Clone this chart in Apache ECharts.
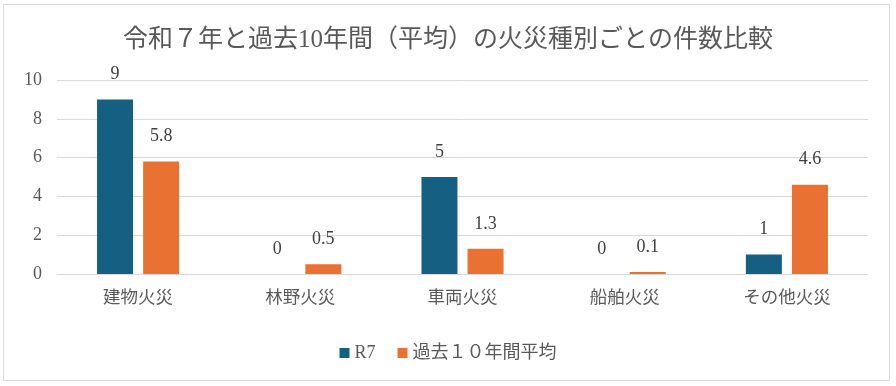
<!DOCTYPE html>
<html><head><meta charset="utf-8">
<script src="https://cdn.jsdelivr.net/npm/echarts@6/dist/echarts.min.js"></script>
<style>html,body{margin:0;padding:0;background:#fff}#c{width:896px;height:386px}</style>
</head><body><div id="c"></div>
<script>
const categories = ['建物火災', '林野火災', '車両火災', '船舶火災', 'その他火災'];
const r7Values = [9, 0, 5, 0, 1];
const avgValues = [5.8, 0.5, 1.3, 0.1, 4.6];
const seriesNames = ['R7', '過去１０年間平均'];
const titleText = '令和７年と過去10年間（平均）の火災種別ごとの件数比較';
const FONT = '"Liberation Serif","DejaVu Serif","Noto Sans CJK JP",serif';
const chart = echarts.init(document.getElementById('c'));
chart.setOption({
  animation: false,
  graphic: [{type:'rect', shape:{x:3.5,y:4.5,width:886,height:376}, style:{fill:'none', stroke:'#d9d9d9', lineWidth:1}}],
  title: {text: titleText, left: 'center', top: 23, textStyle:{fontFamily: FONT, fontSize: 25, fontWeight:'normal', color:'#595959'}},
  legend: {bottom: 19, left:'center', itemWidth: 10, itemHeight: 10, itemGap: 22, itemTextGap: 4, icon:'rect', textStyle:{fontFamily: FONT, fontSize: 18, color:'#595959'}},
  grid: {left: 57, right: 28, top: 80, bottom: 112},
  xAxis: {type:'category', data: categories, axisTick:{show:false}, axisLine:{lineStyle:{color:'#d9d9d9'}},
    axisLabel:{fontFamily: FONT, fontSize: 17.5, color:'#595959', margin: 16}},
  yAxis: {type:'value', min:0, max:10, interval:2, axisLine:{show:false}, axisTick:{show:false},
    splitLine:{lineStyle:{color:'#d9d9d9'}}, axisLabel:{fontFamily: FONT, fontSize: 18, color:'#595959', margin: 15}},
  series: [
    {name: seriesNames[0], type:'bar', data: r7Values, barWidth: 36, barGap:'28%', itemStyle:{color:'#156082'},
     label:{show:true, position:'top', distance: 16, fontFamily: FONT, fontSize:18, color:'#404040'}},
    {name: seriesNames[1], type:'bar', data: avgValues, barWidth: 36, itemStyle:{color:'#e97132'},
     label:{show:true, position:'top', distance: 16, fontFamily: FONT, fontSize:18, color:'#404040'}}
  ]
});
</script></body></html>
